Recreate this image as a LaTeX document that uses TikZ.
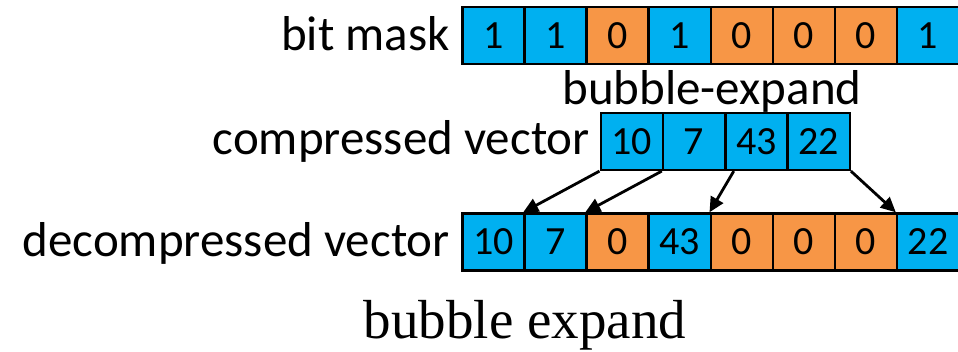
\documentclass[tikz,border=0pt]{standalone}
\usepackage{fontspec}
\setmainfont{Carlito}
\newfontfamily\capfont{Liberation Serif}
\usetikzlibrary{arrows.meta,calc}
\definecolor{setblue}{HTML}{00B0F0}
\definecolor{zeroorange}{HTML}{F79646}
\begin{document}
\begin{tikzpicture}[x=1pt,y=-1pt,
  cell/.style={draw=black,line width=2.4pt,minimum width=62.1pt,minimum height=57pt,
    inner sep=0pt,font=\fontsize{40}{44}\selectfont},
  one/.style={cell,fill=setblue},
  zero/.style={cell,fill=zeroorange},
  lbl/.style={inner sep=0pt,font=\fontsize{49}{56}\selectfont},
  mv/.style={line width=2.8pt,-{Triangle[length=15pt,width=14pt]}}]
\useasboundingbox (0,0) rectangle (958,352);

% bit mask row
\node[lbl,anchor=base east] (lmask) at (450,51) {bit mask};
\foreach \v [count=\i] in {1,1,0,1,0,0,0,1}{
  \ifnum\v=1 \def\sty{one}\else\def\sty{zero}\fi
  \node[\sty] (m\i) at ({462.3+31.05+62.1*(\i-1)},35.5) {\v};
}
\node[lbl,anchor=base] (op) at (712,105) {bubble-expand};

% compressed vector
\node[lbl,anchor=base east] (lcomp) at (590,155) {compressed vector};
\foreach \v [count=\i] in {10,7,43,22}{
  \node[one] (c\i) at ({600.7+31.05+62.3*(\i-1)},141.4) {\v};
}

% decompressed vector
\node[lbl,anchor=base east] (ldec) at (450,257) {decompressed vector};
\foreach \v/\s [count=\i] in {10/one,7/one,0/zero,43/one,0/zero,0/zero,0/zero,22/one}{
  \node[\s] (d\i) at ({462.3+31.05+62.1*(\i-1)},242) {\v};
}

% scatter of compressed values into their slots
\draw[mv] (c1.south west) -- (d2.north west);
\draw[mv] (c2.south west) -- (d3.north west);
\draw[mv] ($(c3.south west)!0.15!(c3.south east)$) -- (d5.north west);
\draw[mv] (c4.south east) -- (d8.north west);

\node[inner sep=0pt,anchor=base,font=\capfont\fontsize{55}{60}\selectfont] (cap) at (525,338) {bubble expand};
\end{tikzpicture}
\end{document}
